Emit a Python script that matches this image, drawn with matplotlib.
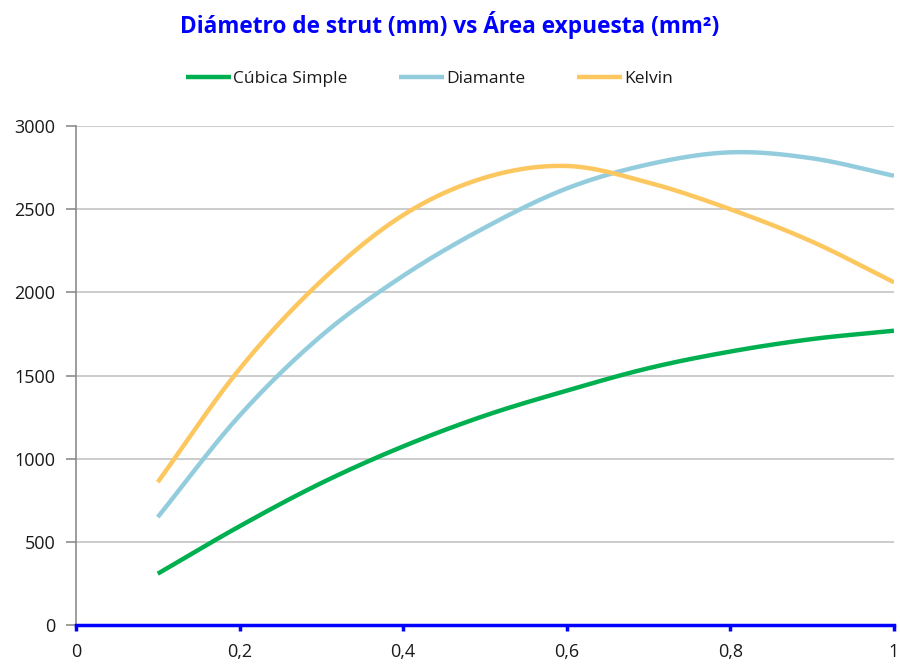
import numpy as np
import matplotlib
matplotlib.use("Agg")
import matplotlib.pyplot as plt
from matplotlib.ticker import FuncFormatter

# Strut diameter (mm) and exposed area (mm²) per lattice type
diametro = [0.1, 0.2, 0.3, 0.4, 0.5, 0.6, 0.7, 0.8, 0.9, 1.0]
cubica_simple = [310, 595, 855, 1075, 1260, 1410, 1545, 1645, 1720, 1770]
diamante = [650, 1260, 1740, 2100, 2390, 2625, 2770, 2842, 2806, 2701]
kelvin = [860, 1540, 2070, 2465, 2690, 2760, 2660, 2500, 2305, 2061]

series_names = ["Cúbica Simple", "Diamante", "Kelvin"]
series_colors = ["#00b050", "#93cddd", "#fdc760"]

y_ticks = [0, 500, 1000, 1500, 2000, 2500, 3000]
x_ticks = [0, 0.2, 0.4, 0.6, 0.8, 1.0]


def smooth(xs, ys, n=30):
    """Catmull-Rom curve through the given points (smoothed-line style)."""
    xs = np.asarray(xs, float)
    ys = np.asarray(ys, float)
    px = np.concatenate([[2 * xs[0] - xs[1]], xs, [2 * xs[-1] - xs[-2]]])
    py = np.concatenate([[2 * ys[0] - ys[1]], ys, [2 * ys[-1] - ys[-2]]])
    out_x, out_y = [], []
    t = np.linspace(0, 1, n, endpoint=False)
    for i in range(1, len(px) - 2):
        for arr, out in ((px, out_x), (py, out_y)):
            p0, p1, p2, p3 = arr[i - 1], arr[i], arr[i + 1], arr[i + 2]
            out.extend(0.5 * ((2 * p1) + (-p0 + p2) * t
                              + (2 * p0 - 5 * p1 + 4 * p2 - p3) * t ** 2
                              + (-p0 + 3 * p1 - 3 * p2 + p3) * t ** 3))
    out_x.append(xs[-1])
    out_y.append(ys[-1])
    return np.array(out_x), np.array(out_y)


plt.rcParams["font.family"] = ["Open Sans", "DejaVu Sans"]

fig = plt.figure(figsize=(9, 6.64), dpi=100)
ax = fig.add_axes([0.0844, 0.0583, 0.9089, 0.7519])

for ys, name, color in zip([cubica_simple, diamante, kelvin], series_names, series_colors):
    sx, sy = smooth(diametro, ys)
    ax.plot(sx, sy, color=color, lw=3.2, label=name, solid_capstyle="butt", zorder=3)

ax.set_xlim(0, 1)
ax.set_ylim(0, 3000)
ax.set_yticks(y_ticks)
ax.set_xticks(x_ticks)

fmt = FuncFormatter(lambda v, p: ("%g" % v).replace(".", ","))
ax.xaxis.set_major_formatter(fmt)

ax.grid(axis="y", color="#c4c4c4", lw=1.2, zorder=0)
ax.set_axisbelow(True)

for s in ("top", "right"):
    ax.spines[s].set_visible(False)
ax.spines["left"].set_color("#8c8c8c")
ax.spines["left"].set_linewidth(1.2)
ax.spines["bottom"].set_color("#0000ff")
ax.spines["bottom"].set_linewidth(2.5)
ax.spines["bottom"].set_zorder(4)

ax.tick_params(axis="y", direction="out", length=7, width=1.2, color="#8c8c8c",
               labelsize=13, labelcolor="#1a1a1a", pad=8)
ax.tick_params(axis="x", direction="out", length=4, width=2.5, color="#0000ff",
               labelsize=13, labelcolor="#1a1a1a", pad=9)

fig.text(0.5, 0.962, "Diámetro de strut (mm) vs Área expuesta (mm²)",
         ha="center", va="center", color="#0000ff", fontsize=16.3, fontweight="bold")

leg = fig.legend(loc="center", bbox_to_anchor=(0.477, 0.881), ncol=3, frameon=False,
                 fontsize=12.5, handlelength=2.6, handletextpad=0.1, columnspacing=3.0)
for t in leg.get_texts():
    t.set_color("#1a1a1a")

fig.savefig("out.png", dpi=100, facecolor="white")
